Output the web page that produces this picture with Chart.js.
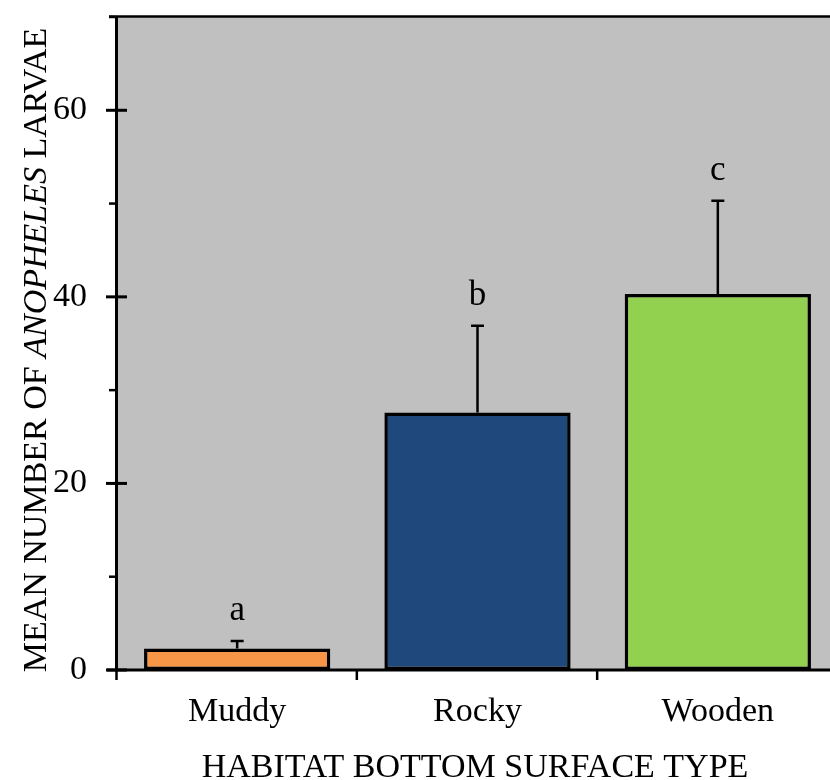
<!DOCTYPE html>
<html>
<head>
<meta charset="utf-8">
<script src="https://cdn.jsdelivr.net/npm/chart.js@4.4.1/dist/chart.umd.min.js"></script>
<style>
  html, body { margin: 0; padding: 0; background: #ffffff; overflow: hidden; }
  #wrap { width: 845px; height: 780px; }
</style>
</head>
<body>
<div id="wrap"><canvas id="c" width="845" height="780"></canvas></div>
<script>
// ---- data ----
const categories = ["Muddy", "Rocky", "Wooden"];
const meanValues = [2.3, 27.6, 40.3];
const errorTops = [3.1, 36.9, 50.3];
const sigLetters = ["a", "b", "c"];
const barColors = ["#F79646", "#1F497D", "#92D050"];
const yTickLabels = [0, 20, 40, 60];
const yMinorTicks = [10, 30, 50, 70];
const yMax = 70;

const FONT = '"Liberation Serif", "Times New Roman", serif';

const decorPlugin = {
  id: 'decor',
  beforeDraw(chart) {
    const { ctx, chartArea: a } = chart;
    ctx.save();
    ctx.fillStyle = '#C0C0C0';
    ctx.fillRect(a.left, a.top, a.right - a.left, a.bottom - a.top);
    ctx.restore();
  },
  afterDatasetsDraw(chart) {
    const { ctx, chartArea: a } = chart;
    const xs = chart.scales.x, ys = chart.scales.y;
    ctx.save();
    // error bars
    ctx.strokeStyle = '#000';
    ctx.lineWidth = 2.5;
    for (let i = 0; i < categories.length; i++) {
      const x = xs.getPixelForValue(i);
      const yTop = ys.getPixelForValue(meanValues[i]);
      const yErr = ys.getPixelForValue(errorTops[i]);
      ctx.beginPath();
      ctx.moveTo(x, yTop);
      ctx.lineTo(x, yErr);
      ctx.moveTo(x - 6.5, yErr);
      ctx.lineTo(x + 6.5, yErr);
      ctx.stroke();
      // letters
      ctx.fillStyle = '#000';
      ctx.font = '35px ' + FONT;
      ctx.textAlign = 'center';
      ctx.textBaseline = 'alphabetic';
      ctx.fillText(sigLetters[i], x, yErr - 21);
    }
    // axis lines
    ctx.lineWidth = 3;
    ctx.beginPath();
    ctx.moveTo(a.left - 0.5, a.top - 1);
    ctx.lineTo(a.left - 0.5, a.bottom);
    ctx.stroke();
    ctx.beginPath();
    ctx.moveTo(a.left - 10, a.bottom);
    ctx.lineTo(a.right, a.bottom);
    ctx.stroke();
    // top border
    ctx.lineWidth = 2.5;
    ctx.beginPath();
    ctx.moveTo(a.left - 8, a.top - 0.5);
    ctx.lineTo(a.right, a.top - 0.5);
    ctx.stroke();
    // y major ticks (crossing)
    ctx.lineWidth = 3;
    for (const v of yTickLabels) {
      const y = ys.getPixelForValue(v);
      ctx.beginPath();
      ctx.moveTo(a.left - 11, y);
      ctx.lineTo(a.left + 10, y);
      ctx.stroke();
    }
    // y minor ticks (outside)
    ctx.lineWidth = 2.5;
    for (const v of yMinorTicks) {
      const y = ys.getPixelForValue(v);
      ctx.beginPath();
      ctx.moveTo(a.left - 8, y);
      ctx.lineTo(a.left - 1, y);
      ctx.stroke();
    }
    // x ticks at category boundaries
    ctx.lineWidth = 2.5;
    for (let i = 0; i <= categories.length; i++) {
      const x = xs.getPixelForValue(i - 0.5);
      ctx.beginPath();
      ctx.moveTo(x - 0.5, a.bottom);
      ctx.lineTo(x - 0.5, a.bottom + 10);
      ctx.stroke();
    }
    // x title
    ctx.fillStyle = '#000';
    ctx.font = '34px ' + FONT;
    ctx.textAlign = 'center';
    ctx.textBaseline = 'alphabetic';
    ctx.fillText('HABITAT BOTTOM SURFACE TYPE', 475, 777);
    // y title (mixed italic)
    const parts = [
      { t: 'MEAN NUMBER OF ', f: '34px ' + FONT },
      { t: 'ANOPHELES', f: 'italic 34px ' + FONT },
      { t: ' LARVAE', f: '34px ' + FONT }
    ];
    let total = 0;
    for (const p of parts) { ctx.font = p.f; p.w = ctx.measureText(p.t).width; total += p.w; }
    ctx.translate(46, 350);
    ctx.rotate(-Math.PI / 2);
    ctx.textAlign = 'left';
    let cx = -total / 2;
    for (const p of parts) { ctx.font = p.f; ctx.fillText(p.t, cx, 0); cx += p.w; }
    ctx.restore();
  }
};

new Chart(document.getElementById('c'), {
  type: 'bar',
  data: {
    labels: categories,
    datasets: [{
      data: meanValues,
      backgroundColor: barColors,
      borderColor: '#000',
      borderWidth: 3.5,
      borderSkipped: false,
      categoryPercentage: 1.0,
      barPercentage: 0.775
    }]
  },
  options: {
    responsive: false,
    animation: false,
    devicePixelRatio: 1,
    layout: { padding: { top: 17, right: 7, left: 0, bottom: 0 } },
    plugins: { legend: { display: false }, tooltip: { enabled: false }, title: { display: false } },
    scales: {
      x: {
        grid: { display: false, drawTicks: false },
        border: { display: false },
        ticks: {
          color: '#000',
          font: { family: FONT, size: 34 },
          padding: 22,
          maxRotation: 0
        },
        afterFit(s) { s.height = 110; s.paddingLeft = 0; s.paddingRight = 0; }
      },
      y: {
        min: 0,
        max: yMax,
        grid: { display: false, drawTicks: false },
        border: { display: false },
        ticks: {
          stepSize: 10,
          color: '#000',
          font: { family: FONT, size: 34 },
          padding: 30,
          callback: (v) => (yTickLabels.includes(v) ? String(v) : '')
        },
        afterFit(s) { s.width = 117; s.paddingTop = 0; s.paddingBottom = 0; }
      }
    }
  },
  plugins: [decorPlugin]
});
</script>
</body>
</html>
